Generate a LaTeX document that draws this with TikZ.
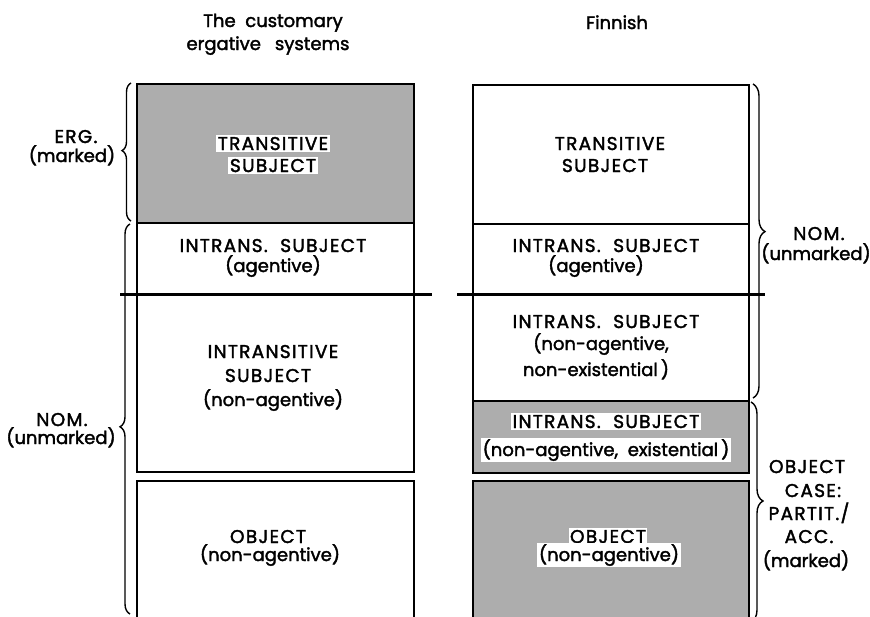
\documentclass[tikz,border=0pt]{standalone}
\usepackage{fontspec}
\setmainfont{Poppins}[FakeBold=2]
\newfontfamily\capsfont{Poppins}[FakeBold=2,LetterSpace=7]
\usetikzlibrary{decorations.pathreplacing}
\begin{document}
\begin{tikzpicture}[x=1pt,y=-1pt,
  cell/.style={draw, line width=1.6pt, inner sep=0pt, anchor=north west},
  shade/.style={fill=black!32},
  lbl/.style={anchor=base, inner sep=0pt, font=\fontsize{18}{21}\selectfont},
  capslbl/.style={anchor=base, inner sep=0pt, font=\fontsize{18.5}{21}\capsfont},
  patch/.style={fill=white, inner sep=1.5pt},
  rule/.style={line width=3.6pt},
  bracebox/.style={decorate, line width=1.4pt}]
\useasboundingbox (0,0) rectangle (870,616);
% left column cells
\node[cell, shade, minimum width=277pt, minimum height=139pt] (L1) at (136,83) {};
\node[cell, minimum width=277pt, minimum height=71pt] (L2) at (136,222) {};
\node[cell, minimum width=277pt, minimum height=178pt] (L3) at (136,293) {};
\node[cell, minimum width=277pt, minimum height=145pt] (L4) at (136,480) {};
% right column cells
\node[cell, minimum width=276pt, minimum height=139pt] (R1) at (472,84) {};
\node[cell, minimum width=276pt, minimum height=70pt] (R2) at (472,223) {};
\node[cell, minimum width=276pt, minimum height=107pt] (R3) at (472,293) {};
\node[cell, shade, minimum width=276pt, minimum height=72pt] (R4) at (472,400) {};
\node[cell, shade, minimum width=276pt, minimum height=145pt] (R5) at (472,480) {};
% thick rules
\draw[rule] ([xshift=-16pt]L2.south west) -- ([xshift=17pt]L2.south east);
\draw[rule] ([xshift=-15pt]R2.south west) -- ([xshift=15pt]R2.south east);
% braces
\coordinate (ergB) at (131,221); \coordinate (ergT) at (131,83);
\coordinate (nomlB) at (130,614); \coordinate (nomlT) at (130,224);
\coordinate (nomrT) at (753,84); \coordinate (nomrB) at (753,398);
\coordinate (objT) at (751,402); \coordinate (objB) at (751,622);
\draw[bracebox, decoration={brace, amplitude=9pt, aspect=0.51}] (ergB) -- (ergT);
\draw[bracebox, decoration={brace, amplitude=10pt, aspect=0.48}] (nomlB) -- (nomlT);
\draw[bracebox, decoration={brace, amplitude=12pt, aspect=0.47}] (nomrT) -- (nomrB);
\draw[bracebox, decoration={brace, amplitude=12pt, aspect=0.45}] (objT) -- (objB);
% headers
\node[lbl] (h1a) at (273,27) {The\ \ customary};
\node[lbl] (h1b) at (268,50) {ergative\hspace{14pt}systems};
\node[lbl] (h2) at (617,29) {Finnish};
% left side labels
\node[capslbl] (erg1) at (76,143) {ERG.};
\node[lbl] (erg2) at (72,162) {(marked)};
\node[capslbl] (noml1) at (62,426) {NOM.};
\node[lbl] (noml2) at (61,444) {(unmarked)};
% right side labels
\node[capslbl] (nomr1) at (819,240) {NOM.};
\node[lbl] (nomr2) at (816,260) {(unmarked)};
\node[capslbl] (oc1) at (807,473) {OBJECT};
\node[capslbl] (oc2) at (813,497) {CASE:};
\node[capslbl] (oc3) at (809,520) {PARTIT./};
\node[capslbl] (oc4) at (809,543) {ACC.};
\node[lbl] (oc5) at (806,567) {(marked)};
% left column texts
\node[capslbl, patch] (lt1) at (273,150) {TRANSITIVE};
\node[capslbl, patch] (lt2) at (273,172) {SUBJECT};
\node[capslbl] (la1) at (273,252) {INTRANS.\ \ SUBJECT};
\node[lbl] (la2) at (273,272) {(agentive)};
\node[capslbl] (ln1) at (273,358) {INTRANSITIVE};
\node[capslbl] (ln2) at (268,382) {SUBJECT};
\node[lbl] (ln3) at (273,406) {(non-agentive)};
\node[capslbl] (lo1) at (268,543) {OBJECT};
\node[lbl] (lo2) at (270,561) {(non-agentive)};
% right column texts
\node[capslbl] (rt1) at (610,150) {TRANSITIVE};
\node[capslbl] (rt2) at (605,172) {SUBJECT};
\node[capslbl] (ra1) at (606,252) {INTRANS.\ \ SUBJECT};
\node[lbl] (ra2) at (596,272) {(agentive)};
\node[capslbl] (rn1) at (606,328) {INTRANS.\ \ SUBJECT};
\node[lbl] (rn2) at (601,350) {(non-agentive,};
\node[lbl] (rn3) at (596,376) {non-existential\,)};
\node[capslbl, patch] (re1) at (606,428) {INTRANS.\ \ SUBJECT};
\node[lbl, patch] (re2) at (606,456) {(non-agentive,\ \ existential\,)};
\node[capslbl, patch] (ro1) at (608,543) {OBJECT};
\node[lbl, patch] (ro2) at (609,561) {(non-agentive)};
\end{tikzpicture}
\end{document}
